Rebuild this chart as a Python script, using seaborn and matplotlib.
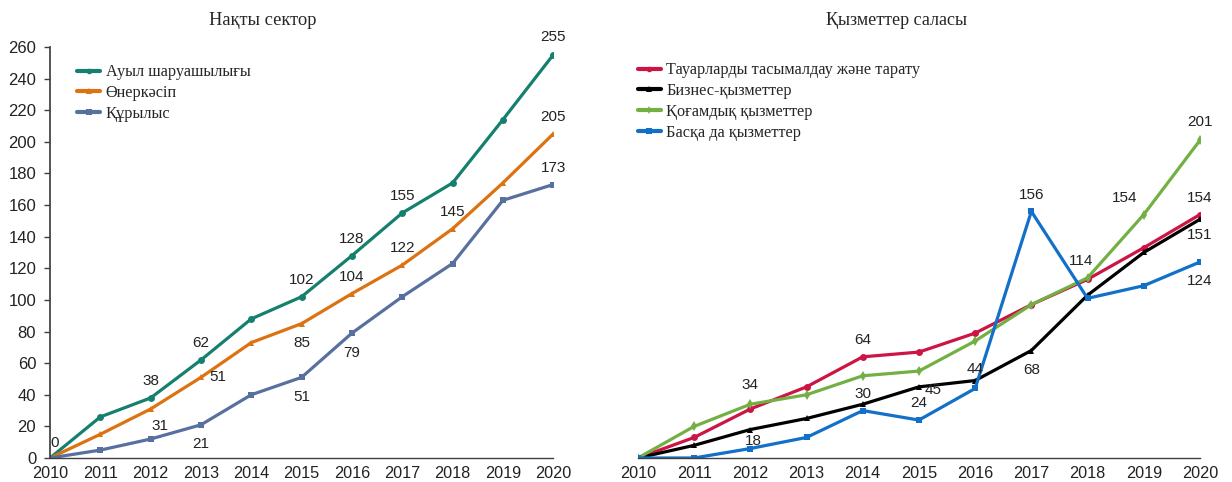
import numpy as np
import pandas as pd
import seaborn as sns
import matplotlib.pyplot as plt

years = list(range(2010, 2021))

# Нақты сектор
real_names = ['Ауыл шаруашылығы', 'Өнеркәсіп', 'Құрылыс']
agri = [0, 26, 38, 62, 88, 102, 128, 155, 174, 214, 255]
industry = [0, 15, 31, 51, 73, 85, 104, 122, 145, 174, 205]
constr = [0, 5, 12, 21, 40, 51, 79, 102, 123, 163, 173]

# Қызметтер саласы
serv_names = ['Тауарларды тасымалдау және тарату', 'Бизнес-қызметтер',
              'Қоғамдық қызметтер', 'Басқа да қызметтер']
trade = [0, 13, 31, 45, 64, 67, 79, 97, 113, 133, 154]
business = [0, 8, 18, 25, 34, 45, 49, 68, 103, 130, 151]
public = [0, 20, 34, 40, 52, 55, 74, 97, 114, 154, 201]
other = [0, 0, 6, 13, 30, 24, 44, 156, 101, 109, 124]

yticks = list(range(0, 261, 20))

sns.set_theme(style='white')
plt.rcParams['font.family'] = ['Liberation Sans', 'DejaVu Sans']

real_df = pd.DataFrame({'year': years * 3,
                        'value': agri + industry + constr,
                        'series': np.repeat(real_names, len(years))})
serv_df = pd.DataFrame({'year': years * 4,
                        'value': trade + business + public + other,
                        'series': np.repeat(serv_names, len(years))})

real_pal = dict(zip(real_names, ['#16806e', '#dc7212', '#5870a0']))
real_mk = dict(zip(real_names, ['o', '^', 's']))
serv_pal = dict(zip(serv_names, ['#cc1445', '#000000', '#72b044', '#1270c8']))
serv_mk = dict(zip(serv_names, ['o', '^', 'd', 's']))

fig = plt.figure(figsize=(12.32, 4.82), dpi=100)
ax1 = fig.add_axes([0.0406, 0.0498, 0.4084, 0.8527])
ax2 = fig.add_axes([0.5178, 0.0498, 0.4562, 0.8527])

sns.lineplot(data=real_df, x='year', y='value', hue='series', style='series',
             palette=real_pal, markers=real_mk, dashes=False, linewidth=2.3,
             markersize=5, markeredgewidth=0, ax=ax1)
sns.lineplot(data=serv_df, x='year', y='value', hue='series', style='series',
             palette=serv_pal, markers=serv_mk, dashes=False, linewidth=2.3,
             markersize=5, markeredgewidth=0, ax=ax2)

for ax in (ax1, ax2):
    ax.set_xlim(2010, 2020)
    ax.set_ylim(0, 260)
    ax.set_xticks(years)
    ax.set_xlabel('')
    ax.set_ylabel('')
    for s in ['top', 'right']:
        ax.spines[s].set_visible(False)
    ax.spines['bottom'].set_color('#404040')
    ax.spines['bottom'].set_linewidth(1)
    ax.tick_params(axis='x', labelsize=11.7, length=0, pad=6, colors='#222222')
    leg = ax.legend(loc='upper left', frameon=False, handlelength=1.4,
                    handletextpad=0.35, labelspacing=0.3, borderpad=0,
                    borderaxespad=0,
                    prop={'family': 'Liberation Serif', 'size': 11.7})
    for h in leg.get_lines():
        h.set_linewidth(3)
        h.set_markersize(4)

ax1.set_yticks(yticks)
ax1.spines['left'].set_color('#404040')
ax1.tick_params(axis='y', labelsize=12, length=4, width=1, left=True,
                colors='#222222', pad=6)
ax1.tick_params(axis='y', color='#404040')
ax1.legend_.set_bbox_to_anchor((0.054, 0.958))

ax2.spines['left'].set_visible(False)
ax2.set_yticks([])
ax2.legend_.set_bbox_to_anchor((0.0, 0.963))

fig.text(0.2135, 0.958, 'Нақты сектор', fontsize=13.3,
         family='Liberation Serif', ha='center', va='center')
fig.text(0.7275, 0.958, 'Қызметтер саласы', fontsize=13,
         family='Liberation Serif', ha='center', va='center')

lab_kw = dict(fontsize=11, color='#222222', ha='center', va='center')

# (series, year, dx, dy) offsets in points
real_labels = [
    (agri, 2010, 3, 11), (agri, 2012, 0, 12), (agri, 2013, 0, 12),
    (agri, 2015, 0, 12), (agri, 2016, 0, 12), (agri, 2017, 0, 12),
    (agri, 2020, 0, 13),
    (industry, 2012, 7, -12), (industry, 2013, 12, 0), (industry, 2015, 0, -14),
    (industry, 2016, 0, 12), (industry, 2017, 0, 12), (industry, 2018, 0, 12),
    (industry, 2020, 0, 12),
    (constr, 2013, 0, -14), (constr, 2015, 0, -14), (constr, 2016, 0, -14),
    (constr, 2020, 0, 12),
]
for ser, yr, dx, dy in real_labels:
    v = ser[years.index(yr)]
    ax1.annotate(str(v), (yr, v), xytext=(dx, dy), textcoords='offset points', **lab_kw)

serv_labels = [
    (public, 2012, 0, 14), (business, 2012, 2, -8), (trade, 2014, 0, 12),
    (other, 2014, 0, 12), (other, 2015, 0, 12), (business, 2015, 10, -2),
    (other, 2016, 0, 14), (other, 2017, 0, 12), (business, 2017, 0, -14),
    (public, 2018, -5, 12), (public, 2019, -14, 12), (public, 2020, 0, 13),
    (trade, 2020, 0, 12), (business, 2020, 0, -11), (other, 2020, 0, -14),
]
for ser, yr, dx, dy in serv_labels:
    v = ser[years.index(yr)]
    ax2.annotate(str(v), (yr, v), xytext=(dx, dy), textcoords='offset points', **lab_kw)

fig.savefig('out.png', dpi=100)
